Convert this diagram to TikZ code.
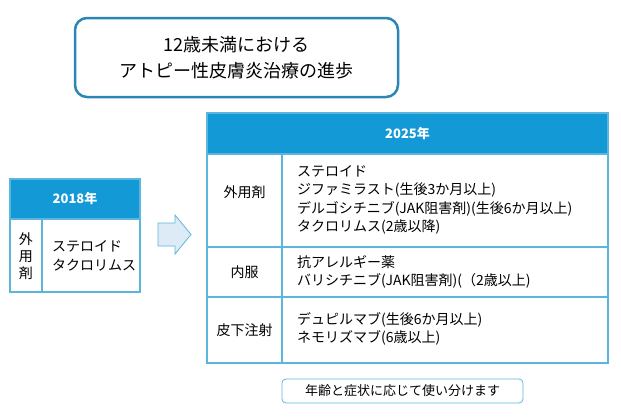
\documentclass[tikz,border=0pt]{standalone}
\usepackage{fontspec}
\setmainfont{Noto Sans CJK JP}
\definecolor{hdblue}{HTML}{139AD6}
\definecolor{lnblue}{HTML}{5BB5DD}
\definecolor{ttblue}{HTML}{2A86B4}
\definecolor{arrfill}{HTML}{DDEBF7}
\tikzset{
  hdcell/.style={fill=hdblue,draw=lnblue,line width=1.2pt},
  tcell/.style={draw=lnblue,line width=1.2pt},
  txt/.style={font=\fontsize{14}{18.5}\selectfont,align=left,anchor=west,inner sep=0pt},
  ktxt/.style={font=\fontsize{14}{16}\selectfont},
  hdtxt/.style={font=\fontsize{13}{16}\selectfont\bfseries,text=white},
}
\begin{document}
\begin{tikzpicture}[x=1pt,y=-1pt]
\useasboundingbox (0,0) rectangle (621,416);
% title
\draw[ttblue,line width=2.5pt,rounded corners=12pt] (75,18) rectangle (398,97);
\node[font=\fontsize{18}{26}\selectfont,align=center] (title) at (236.5,58) {12歳未満における\\アトピー性皮膚炎治療の進歩};
% 2018
\draw[hdcell] (10,179) rectangle (140,219);
\node[hdtxt] (h18) at (75,199) {2018年};
\draw[tcell] (10,219) rectangle (140,292);
\draw[tcell] (42,219) -- (42,292);
\node[ktxt,align=center,font=\fontsize{14}{17}\selectfont] (k18) at (26,256) {外\\用\\剤};
\node[txt] (d18) at (52,256) {ステロイド\\タクロリムス};
% arrow
\draw[lnblue,fill=arrfill,line width=0.8pt] (158,223) -- (175,223) -- (175,215) -- (191,234.5)
  -- (175,254) -- (175,246) -- (158,246) -- cycle;
% 2025
\draw[hdcell] (207,113) rectangle (608,154);
\node[hdtxt] (h25) at (407.5,134) {2025年};
\draw[tcell] (207,154) rectangle (608,363);
\draw[tcell] (282,154) -- (282,363);
\draw[tcell] (207,247) -- (608,247);
\draw[tcell] (207,297) -- (608,297);
\node[ktxt] (k1) at (244.5,192) {外用剤};
\node[ktxt] (k2) at (244.5,272) {内服};
\node[ktxt] (k3) at (244.5,330) {皮下注射};
\node[txt] (d1) at (297,200) {ステロイド\\ジファミラスト(生後3か月以上)\\デルゴシチニブ(JAK阻害剤)(生後6か月以上)\\タクロリムス(2歳以降)};
\node[txt] (d2) at (297,272) {抗アレルギー薬\\バリシチニブ(JAK阻害剤)(（2歳以上)};
\node[txt] (d3) at (297,329) {デュピルマブ(生後6か月以上)\\ネモリズマブ(6歳以上)};
% note
\draw[lnblue,line width=0.8pt,rounded corners=4pt] (282,379) rectangle (523,403);
\node[font=\fontsize{13}{14}\selectfont] (note) at (402.5,391) {年齢と症状に応じて使い分けます};
\end{tikzpicture}
\end{document}
